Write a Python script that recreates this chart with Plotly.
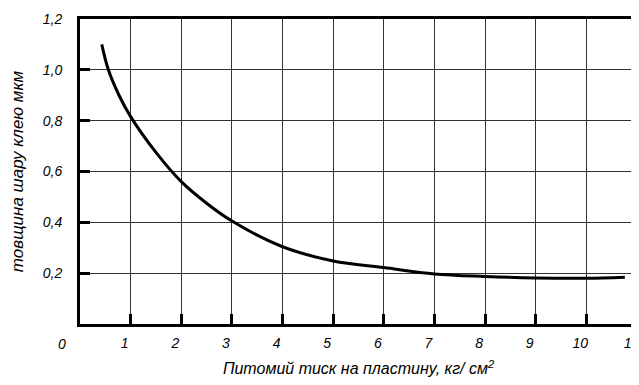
import plotly.graph_objects as go

pressure = [0.43, 0.56, 0.77, 1.0, 1.5, 2.0, 2.5, 3.0, 4.0, 5.0, 6.0, 7.0, 8.0, 9.0, 10.0, 10.76]
thickness = [1.10, 1.0, 0.90, 0.816, 0.675, 0.56, 0.475, 0.405, 0.304, 0.248, 0.222, 0.197, 0.187, 0.181, 0.180, 0.184]

x_ticks = [1, 2, 3, 4, 5, 6, 7, 8, 9, 10, 11]
y_ticks = [0.2, 0.4, 0.6, 0.8, 1.0, 1.2]
y_labels = ["0,2", "0,4", "0,6", "0,8", "1,0", "1,2"]

font_family = "Liberation Sans Narrow, Liberation Sans, Arial"

fig = go.Figure()
fig.add_trace(go.Scatter(x=pressure, y=thickness, mode="lines",
                         line=dict(color="black", width=3, shape="spline", smoothing=1.0),
                         showlegend=False, hoverinfo="skip"))

# page body has an 8px default margin, so the figure is sized to the visible area
fig.update_layout(
    width=631, height=377,
    margin=dict(l=72, r=2, t=11, b=61),
    paper_bgcolor="white", plot_bgcolor="white",
    font=dict(family=font_family, color="black"),
    xaxis=dict(range=[0, 11], tickvals=x_ticks, ticktext=[f"<i>{v}</i>" for v in x_ticks],
               showgrid=True, gridcolor="#333333", gridwidth=1,
               showline=True, linecolor="black", linewidth=3, mirror=True,
               ticks="inside", ticklen=10, tickwidth=3, tickcolor="black",
               tickfont=dict(size=14, family=font_family),
               ticklabelshift=-6, ticklabelstandoff=4, ticklabeloverflow="allow",
               automargin=False,
               title=dict(text="<i>Питомий тиск на пластину, кг/ см<sup>2</sup></i>",
                          font=dict(size=16, family=font_family), standoff=14),
               zeroline=False),
    yaxis=dict(range=[0, 1.2], tickvals=y_ticks, ticktext=[f"<i>{t}</i>" for t in y_labels],
               showgrid=True, gridcolor="#333333", gridwidth=1,
               showline=True, linecolor="black", linewidth=3, mirror=True,
               ticks="inside", ticklen=10, tickwidth=3, tickcolor="black",
               tickfont=dict(size=14, family=font_family),
               ticklabelstandoff=12,
               automargin=False,
               title=dict(text="<i>товщина шару клею мкм</i>",
                          font=dict(size=17, family=font_family), standoff=18),
               zeroline=False),
)

fig.add_annotation(text="<i>0</i>", xref="paper", yref="paper", x=-0.032, y=-0.065,
                   showarrow=False, xanchor="center", yanchor="middle",
                   font=dict(size=14, family=font_family))

fig.write_html("out.html")
